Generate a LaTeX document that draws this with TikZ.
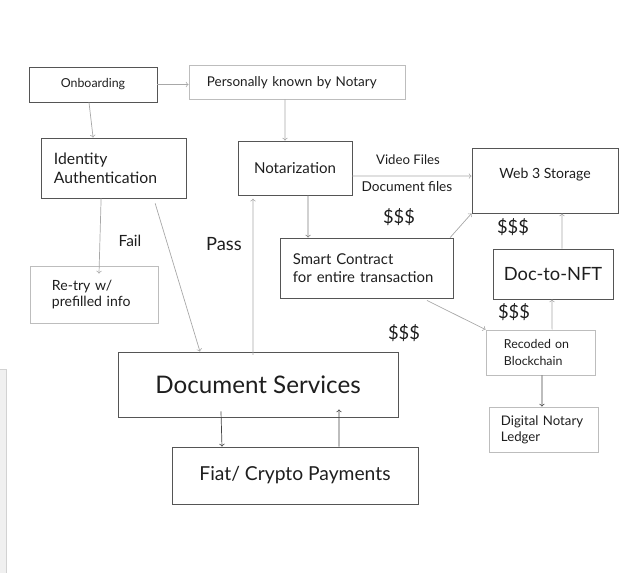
\documentclass[tikz,border=0pt]{standalone}
\usepackage{fontspec}
\setmainfont{Lato}
\definecolor{boxdark}{HTML}{555555}
\definecolor{boxlight}{HTML}{BDBDBD}
\definecolor{arrowlight}{HTML}{A8A8A8}
\definecolor{arrowdark}{HTML}{444444}
\definecolor{inkblack}{HTML}{1E1E1E}
\tikzset{
    darkbox/.style={draw=boxdark, line width=0.6pt, text=inkblack, inner sep=0pt, align=center},
    lightbox/.style={draw=boxlight, line width=0.6pt, text=inkblack, inner sep=0pt, align=center},
    leftbox/.style={text width=#1, align=left, inner xsep=0.325cm},
    softarrow/.style={draw=arrowlight, line width=0.5pt, ->},
    hardarrow/.style={draw=arrowdark, line width=0.5pt, ->},
    caption/.style={text=inkblack, inner sep=0pt}
}
\begin{document}
\begin{tikzpicture}[x=0.025cm, y=-0.025cm]
    \useasboundingbox (0,0) rectangle (634,573);
    % strip on the left edge
    \fill[gray!12] (0,369) rectangle (6,573);
    \draw[gray!35, line width=0.4pt] (0,369) -- (6,369) -- (6,573);

    % Top row
    \node[darkbox, minimum width=3.2cm, minimum height=0.875cm, font=\fontsize{8.8}{11}\selectfont] (onboarding) at (93,84.5) {Onboarding};
    \node[lightbox, leftbox=4.5cm, inner xsep=0.45cm, minimum height=0.85cm, text depth=0pt, font=\fontsize{9.6}{12}\selectfont] (known) at (297,82) {Personally known by Notary};

    % Left column
    \node[darkbox, leftbox=2.975cm, minimum height=1.5cm, font=\fontsize{11.2}{13.5}\selectfont] (identity) at (113.5,168) {Identity\\Authentication};
    \node[lightbox, leftbox=2.1cm, inner xsep=0.55cm, minimum height=1.425cm, font=\fontsize{10}{11.5}\selectfont] (retry) at (94,294.5) {Re-try w/\\prefilled info};

    % Middle column
    \node[darkbox, minimum width=2.85cm, minimum height=1.35cm, font=\fontsize{10.7}{13}\selectfont] (notarization) at (295,168) {Notarization};
    \node[darkbox, leftbox=3.675cm, minimum height=1.5cm, font=\fontsize{10.6}{13}\selectfont] (contract) at (366.5,268) {Smart Contract\\for entire transaction};

    % Right column
    \node[darkbox, minimum width=3.65cm, minimum height=1.625cm, text depth=0.35cm, font=\fontsize{10}{12}\selectfont] (storage) at (545,180.5) {Web 3 Storage};
    \node[darkbox, minimum width=3cm, minimum height=1.25cm, font=\fontsize{13}{16}\selectfont] (nft) at (553,274) {Doc-to-NFT};
    \node[lightbox, leftbox=1.825cm, inner xsep=0.45cm, minimum height=1.125cm, font=\fontsize{8.8}{11.5}\selectfont] (recoded) at (540.5,352.5) {Recoded on\\Blockchain};
    \node[lightbox, leftbox=2.125cm, inner xsep=0.3cm, minimum height=1.125cm, font=\fontsize{9.4}{11.5}\selectfont] (ledger) at (543.5,429.5) {Digital Notary\\Ledger};

    % Bottom boxes
    \node[darkbox, minimum width=7cm, minimum height=1.625cm, font=\fontsize{17.2}{21}\selectfont] (services) at (258,384.5) {Document Services};
    \node[darkbox, minimum width=6.15cm, minimum height=1.425cm, font=\fontsize{13.7}{17}\selectfont] (payments) at (295,475.5) {Fiat/ Crypto Payments};

    % Labels
    \node[caption, font=\fontsize{9.4}{12}\selectfont] (video) at (408,160) {Video Files};
    \node[caption, font=\fontsize{9.7}{12}\selectfont] (docfiles) at (407,187) {Document files};
    \node[caption, font=\fontsize{11}{13}\selectfont] (fail) at (130,241) {Fail};
    \node[caption, font=\fontsize{13}{15}\selectfont] (pass) at (224,244) {Pass};
    \node[caption, font=\fontsize{13}{15}\selectfont] (costa) at (399,217) {\$\$\$};
    \node[caption, font=\fontsize{13}{15}\selectfont] (costb) at (513,227) {\$\$\$};
    \node[caption, font=\fontsize{13}{15}\selectfont] (costc) at (514,312) {\$\$\$};
    \node[caption, font=\fontsize{13}{15}\selectfont] (costd) at (404,333) {\$\$\$};

    % Connectors
    \draw[softarrow] (onboarding.east) -- (onboarding.east -| known.west);
    \draw[softarrow] ([xshift=-0.1cm]onboarding.south) -- ([xshift=-0.51cm]identity.north);
    \draw[softarrow] ([xshift=-0.3cm]known.south) -- ([xshift=-0.25cm]notarization.north);
    \draw[softarrow] ([xshift=-0.31cm]identity.south) -- ([xshift=0.125cm, yshift=-0.2cm]retry.north);
    \draw[softarrow] ([xshift=1.04cm, yshift=-0.12cm]identity.south) -- ([xshift=-1.45cm]services.north);
    \draw[softarrow] ([xshift=-0.125cm, yshift=-0.08cm]services.north) -- ([xshift=-1.05cm, yshift=-0.08cm]notarization.south);
    \draw[softarrow] ([yshift=-0.2cm]notarization.east) -- ([yshift=0.11cm]storage.west);
    \draw[arrowdark!70, line width=0.5pt, ->] ([xshift=0.325cm]notarization.south) -- ([xshift=-1.46cm]contract.north);
    \draw[softarrow] ([xshift=2.09cm]contract.north) -- (storage.south west);
    \draw[softarrow] ([xshift=1.51cm, yshift=-0.05cm]contract.south) -- (recoded.north west);
    \draw[softarrow] ([xshift=0.225cm]nft.north) -- ([xshift=0.425cm]storage.south);
    \draw[softarrow] ([xshift=0.29cm]recoded.north) -- ([xshift=-0.025cm]nft.south);
    \draw[hardarrow] ([xshift=0.04cm]recoded.south) -- ([xshift=-0.04cm]ledger.north);
    \draw[hardarrow] ([xshift=-0.925cm, yshift=0.15cm]services.south) -- ([xshift=-1.825cm]payments.north);
    \draw[hardarrow] ([xshift=1.1cm]payments.north) -- ([xshift=2.025cm, yshift=0.2cm]services.south);
\end{tikzpicture}
\end{document}
